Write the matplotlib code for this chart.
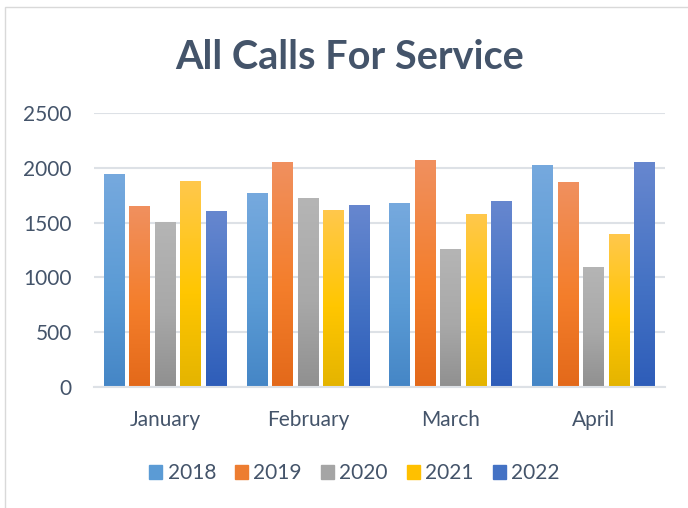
import matplotlib.pyplot as plt
import numpy as np
from matplotlib.colors import LinearSegmentedColormap
from matplotlib.patches import Patch, Rectangle

months = ['January', 'February', 'March', 'April']
years = ['2018', '2019', '2020', '2021', '2022']
calls_2018 = [1935, 1764, 1673, 2018]
calls_2019 = [1646, 2045, 2064, 1864]
calls_2020 = [1501, 1718, 1256, 1092]
calls_2021 = [1873, 1609, 1573, 1392]
calls_2022 = [1600, 1655, 1691, 2045]
series = [calls_2018, calls_2019, calls_2020, calls_2021, calls_2022]

# (bottom, middle, top) of each bar's gradient
shades = [
    ('#4586C6', '#5B9BD5', '#76A9DE'),
    ('#E3691A', '#F47E2B', '#F0905F'),
    ('#909090', '#A8A8A8', '#B5B5B5'),
    ('#E4B400', '#FFC600', '#FFC84C'),
    ('#2E5DB9', '#4472C4', '#6787CF'),
]
base = ['#5B9BD5', '#ED7D31', '#A5A5A5', '#FFC000', '#4472C4']
txt = '#44546A'
font = 'Lato'

fig = plt.figure(figsize=(6.88, 5.08), dpi=100)
ax = fig.add_axes([0.1366, 0.2376, 0.830, 0.5405])

pitch = 0.1786
width = 0.147
x = np.arange(len(months))
grad = np.linspace(0, 1, 256).reshape(-1, 1)
for i, vals in enumerate(series):
    cmap = LinearSegmentedColormap.from_list(years[i], [(0, shades[i][0]), (0.45, shades[i][1]), (1, shades[i][2])])
    for xc, v in zip(x, vals):
        x0 = xc - 2 * pitch + (i * pitch) - width / 2
        ax.imshow(grad, cmap=cmap, origin='lower', aspect='auto',
                  extent=(x0, x0 + width, 0, v), zorder=2, interpolation='bilinear')

ax.set_xlim(-0.5, 3.5)
ax.set_ylim(0, 2500)
ax.set_yticks(range(0, 2501, 500))
ax.set_xticks(x)
ax.set_xticklabels(months)
ax.grid(axis='y', color='#DDE1E6', linewidth=1.5, zorder=0)
ax.set_axisbelow(True)
for s in ['top', 'right', 'left']:
    ax.spines[s].set_visible(False)
ax.spines['bottom'].set_color('#DDE1E6')
ax.spines['bottom'].set_linewidth(1.5)
ax.tick_params(length=0, labelsize=15, labelcolor=txt, pad=16)
for lab in ax.get_xticklabels() + ax.get_yticklabels():
    lab.set_fontfamily(font)

fig.text(0.508, 0.886, 'All Calls For Service', ha='center', va='center',
         fontsize=28.5, fontweight='bold', color=txt, family=font)

handles = [Patch(color=c) for c in base]
leg = fig.legend(handles, years, loc='center', bbox_to_anchor=(0.515, 0.069), ncol=5,
                 frameon=False, handlelength=0.65, handleheight=0.65, handletextpad=0.25,
                 columnspacing=0.9, prop={'family': font, 'size': 15})
for t in leg.get_texts():
    t.set_color(txt)

fig.patches.append(Rectangle((5 / 688, -0.1), 1.2, 1 - 7 / 508 + 0.1, transform=fig.transFigure,
                             fill=False, edgecolor='#D9D9D9', linewidth=1))

fig.savefig('out.png', dpi=100)
